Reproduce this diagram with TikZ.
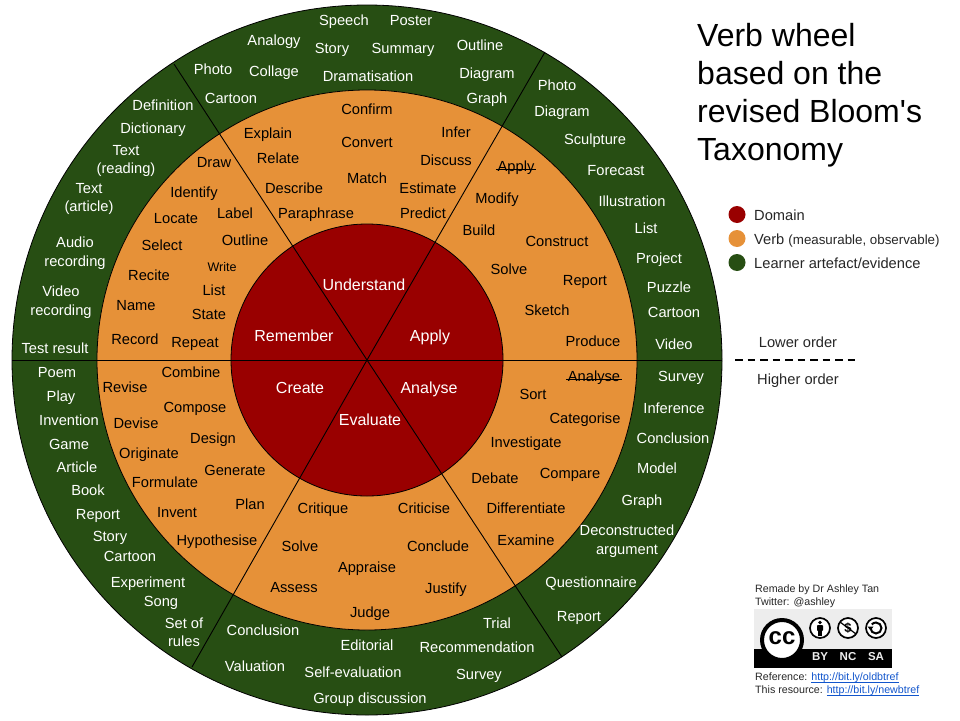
\documentclass[tikz,border=0pt]{standalone}
\usepackage{fontspec}
\setmainfont{Liberation Sans}
\definecolor{domred}{HTML}{990000}
\definecolor{verborange}{HTML}{E69138}
\definecolor{artgreen}{HTML}{274E13}
\definecolor{linkblue}{HTML}{1155CC}
\definecolor{logogrey}{HTML}{EDEDED}
\newcommand{\linktext}[1]{\textcolor{linkblue}{\setbox0\hbox{#1}\rlap{\vrule height -1pt depth 1.7pt width \wd0}\box0}}
\tikzset{
  lbl/.style={inner sep=0pt,text height=0.72em,text depth=0.2em,align=center,yshift=-3pt},
  vb/.style={lbl,text=black,font=\fontsize{14.67}{18}\selectfont},
  art/.style={lbl,text=white,font=\fontsize{14.67}{18}\selectfont},
  arttwo/.style={inner sep=0pt,align=center,text=white,font=\fontsize{14.67}{18.5}\selectfont},
  dom/.style={lbl,text=white,font=\fontsize{16}{19}\selectfont},
  side/.style={lbl,text=black!85,font=\fontsize{14.67}{18}\selectfont},
  credit/.style={lbl,anchor=west,text=black!85,font=\fontsize{10.67}{13}\selectfont},
  wheel/.style={draw=black,line width=0.8pt},
  spoke/.style={draw=black,line width=0.9pt},
  dot/.style={circle,minimum size=17pt,inner sep=0pt},
  ccicon/.style={draw=black,line width=1.7pt,fill=logogrey},
}
\begin{document}
\begin{tikzpicture}[x=1pt,y=-1pt]
\useasboundingbox (0,0) rectangle (960,720);
% rings
\coordinate (c) at (367,360);
\draw[wheel,fill=artgreen] (c) circle[radius=355];
\draw[wheel,fill=verborange] (c) circle[radius=270];
\draw[wheel,fill=domred] (c) circle[radius=136];
% spokes
\coordinate (sE) at (722,360);
\coordinate (sW) at (12,360);
\coordinate (sNE) at (545,52);
\coordinate (sNW) at (174,64);
\coordinate (sSW) at (192,667);
\coordinate (sSE) at (562,657);
\foreach \e in {sE,sW,sNE,sNW,sSW,sSE} \draw[spoke] (c) -- (\e);
% domains
\foreach \x/\y/\t [count=\i] in {
 364/285/Understand,294/336/Remember,430/336/Apply,300/388/Create,429/388/Analyse,370/420/Evaluate}
 \node[dom] (d\i) at (\x,\y) {\t};
% verbs
\foreach \x/\y/\t [count=\i] in {
 367/109/Confirm,268/133/Explain,367/142/Convert,456/132/Infer,278/158/Relate,446/160/Discuss,
 367/178/Match,294/188/Describe,428/188/Estimate,316/213/Paraphrase,423/213/Predict,
 214/162/Draw,194/192/Identify,176/218/Locate,235/213/Label,245/240/Outline,162/245/Select,
 149/275/Recite,214/290/List,136/305/Name,209/314/State,135/339/Record,195/342/Repeat,
 497/198/Modify,479/230/Build,557/241/Construct,509/269/Solve,585/280/Report,547/310/Sketch,593/341/Produce,
 533/394/Sort,585/418/Categorise,526/442/Investigate,495/478/Debate,570/473/Compare,526/508/Differentiate,526/540/Examine,
 323/508/Critique,424/508/Criticise,300/546/Solve,438/546/Conclude,367/567/Appraise,294/587/Assess,446/588/Justify,370/612/Judge,
 191/372/Combine,125/387/Revise,195/407/Compose,136/423/Devise,213/438/Design,149/453/Originate,235/470/Generate,
 165/482/Formulate,177/512/Invent,250/504/Plan,217/540/Hypothesise}
 \node[vb] (v\i) at (\x,\y) {\t};
\node[vb,font=\fontsize{12.5}{15}\selectfont] (vwrite) at (222,266) {Write};
\node[vb] (vapply) at (516,166) {Apply};
\node[vb] (vanalyse) at (594,376) {Analyse};
\draw[black,line width=0.8pt,shorten <=-1.5pt,shorten >=-1.5pt] (vapply.west) -- (vapply.east);
\draw[black,line width=0.8pt,shorten <=-1.5pt,shorten >=-1.5pt] (vanalyse.west) -- (vanalyse.east);
% artefacts
\foreach \x/\y/\t [count=\i] in {
 344/20/Speech,411/20/Poster,274/40/Analogy,332/48/Story,403/48/Summary,480/45/Outline,213/69/Photo,274/71/Collage,
 368/76/Dramatisation,487/73/Diagram,231/98/Cartoon,487/98/Graph,
 557/85/Photo,562/111/Diagram,595/139/Sculpture,616/170/Forecast,632/201/Illustration,646/228/List,659/258/Project,
 669/287/Puzzle,674/312/Cartoon,674/344/Video,
 681/376/Survey,674/408/Inference,673/438/Conclusion,657/468/Model,642/500/Graph,591/582/Questionnaire,579/616/Report,
 497/623/Trial,477/647/Recommendation,479/674/Survey,263/630/Conclusion,367/645/Editorial,255/666/Valuation,
 353/672/Self-evaluation,370/698/Group discussion,
 57/372/Poem,61/396/Play,69/420/Invention,69/444/Game,77/467/Article,88/490/Book,98/514/Report,110/536/Story,
 130/556/Cartoon,148/582/Experiment,161/601/Song,
 163/105/Definition,153/128/Dictionary,55/348/Test result}
 \node[art] (a\i) at (\x,\y) {\t};
\node[arttwo] (b1) at (627,541) {Deconstructed\\argument};
\node[arttwo] (b2) at (184,632.5) {Set of\\rules};
\node[arttwo] (b3) at (126,161) {Text\\(reading)};
\node[arttwo] (b4) at (89,199) {Text\\(article)};
\node[arttwo] (b5) at (75,253) {Audio\\recording};
\node[arttwo] (b6) at (61,302) {Video\\recording};
% title
\node[inner sep=0pt,anchor=north west,align=left,text=black,font=\fontsize{32}{38}\selectfont] (title) at (697,23)
  {Verb wheel\\based on the\\revised Bloom\textquotesingle s\\Taxonomy};
% legend
\node[dot,fill=domred] (l1) at (737,214.5) {};
\node[dot,fill=verborange] (l2) at (737,238.5) {};
\node[dot,fill=artgreen] (l3) at (737,262.5) {};
\node[side,anchor=west] (lt1) at (754,215) {Domain};
\node[side,anchor=west] (lt2) at (754,239) {Verb {\fontsize{13.33}{15}\selectfont (measurable, observable)}};
\node[side,anchor=west] (lt3) at (754,263) {Learner artefact/evidence};
% order
\node[side] (lower) at (798,342) {Lower order};
\node[side] (higher) at (798,379) {Higher order};
\coordinate (ordL) at (735,360);
\coordinate (ordR) at (855,360);
\draw[black,line width=2pt,dash pattern=on 7.5pt off 5pt] (ordL) -- (ordR);
% credits
\node[credit] (cr1) at (755,587) {Remade by Dr Ashley Tan};
\node[credit] (cr2) at (755,600) {Twitter: @ashley};
\node[credit] (cr3) at (755,675) {Reference: \linktext{http://bit.ly/oldbtref}};
\node[credit] (cr4) at (755,688) {This resource: \linktext{http://bit.ly/newbtref}};
% CC logo
\fill[logogrey] (754,609) rectangle (892,649);
\fill[black] (754,649) rectangle (892,668);
\draw[black,line width=4pt,fill=white] (782,640) circle[radius=20];
\node[inner sep=0pt,text=black,font=\fontsize{24}{26}\bfseries\selectfont] (cctxt) at (782,638.5) {cc};
\draw[ccicon,fill=white] (820,628) circle[radius=10];
\fill[black] (820,622.5) circle[radius=1.9];
\fill[black,rounded corners=0.8pt] (817,625) rectangle (823,631);
\fill[black] (818,630) rectangle (822,636);
\draw[ccicon,fill=white] (848,628) circle[radius=10];
\node[inner sep=0pt,text=black,font=\fontsize{13}{14}\bfseries\selectfont] (ncs) at (848,628) {\$};
\draw[black,line width=1.2pt] (840,622) -- (856,634);
\draw[ccicon,fill=white] (876,628) circle[radius=10];
\draw[black,line width=2pt] (870.5,628) arc[start angle=180,end angle=-140,radius=5.5];
\fill[black] (867.5,626.5) -- (873.5,626.5) -- (870.5,630.5) -- cycle;
\foreach \x/\t in {820/BY,848/NC,876/SA}
  \node[lbl,text=logogrey,font=\fontsize{11.5}{13}\bfseries\selectfont] (lic\t) at (\x,654.5) {\t};
\end{tikzpicture}
\end{document}
